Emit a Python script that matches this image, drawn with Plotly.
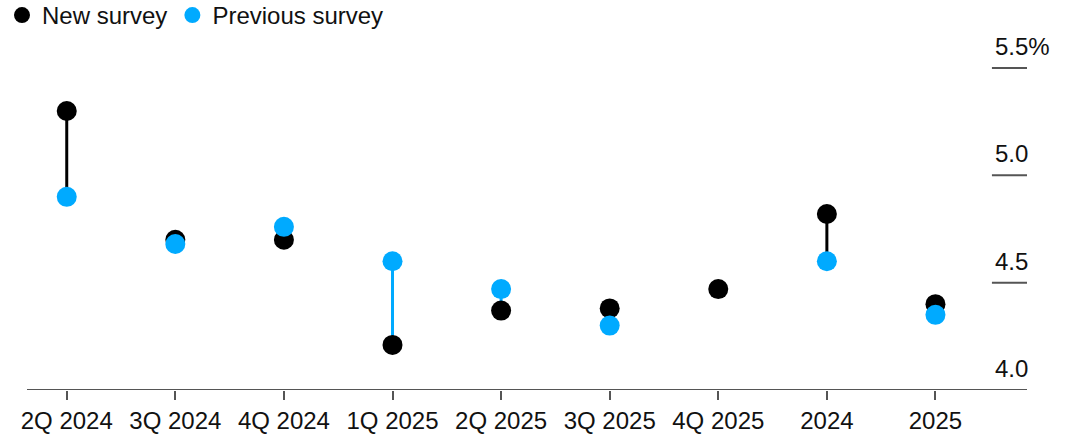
import plotly.graph_objects as go

# Survey forecasts, percent
periods = ["2Q 2024", "3Q 2024", "4Q 2024", "1Q 2025", "2Q 2025",
           "3Q 2025", "4Q 2025", "2024", "2025"]
new_survey = [5.30, 4.70, 4.70, 4.21, 4.37, 4.38, 4.47, 4.82, 4.40]
previous_survey = [4.90, 4.68, 4.76, 4.60, 4.47, 4.30, None, 4.60, 4.35]

y_ticks = [4.0, 4.5, 5.0, 5.5]
y_tick_text = ["4.0", "4.5", "5.0", "5.5%"]

BLACK = "#000000"
BLUE = "#00AAFF"
FONT = "Liberation Sans, Arial, sans-serif"
FS = 24

x_idx = list(range(len(periods)))

# Connectors: black where the new forecast rose, blue where it fell
up_x, up_y, down_x, down_y = [], [], [], []
for i, (n, p) in enumerate(zip(new_survey, previous_survey)):
    if n is None or p is None:
        continue
    if n >= p:
        up_x += [i, i, None]
        up_y += [p, n, None]
    else:
        down_x += [i, i, None]
        down_y += [p, n, None]

fig = go.Figure()
fig.add_trace(go.Scatter(x=up_x, y=up_y, mode="lines",
                         line=dict(color=BLACK, width=3),
                         showlegend=False, hoverinfo="skip"))
fig.add_trace(go.Scatter(x=down_x, y=down_y, mode="lines",
                         line=dict(color=BLUE, width=3),
                         showlegend=False, hoverinfo="skip"))
fig.add_trace(go.Scatter(x=x_idx, y=new_survey, mode="markers",
                         name="New survey",
                         marker=dict(color=BLACK, size=20)))
fig.add_trace(go.Scatter(x=x_idx, y=previous_survey, mode="markers",
                         name="Previous survey",
                         marker=dict(color=BLUE, size=20)))

x_min, x_max = -0.366, 8.843
grid_start = 8.52

# Short gridline stubs and labels on the right-hand side
for v, t in zip(y_ticks, y_tick_text):
    if v != y_ticks[0]:
        fig.add_shape(type="line", xref="x", yref="y",
                      x0=grid_start, x1=x_max, y0=v, y1=v,
                      line=dict(color="#555555", width=2))
    fig.add_annotation(x=grid_start, y=v, xref="x", yref="y",
                       text=t, showarrow=False,
                       xanchor="left", yanchor="bottom",
                       xshift=1, yshift=6,
                       font=dict(family=FONT, size=FS, color="#111111"))

fig.update_layout(
    width=1073, height=435,
    margin=dict(l=27, r=46, t=50, b=45, autoexpand=False),
    paper_bgcolor="white", plot_bgcolor="white",
    font=dict(family=FONT, size=FS, color="#111111"),
    showlegend=True,
    legend=dict(orientation="h", x=-25 / 1000, y=1 + 57 / 340,
                xref="paper", yref="paper",
                xanchor="left", yanchor="top",
                font=dict(family=FONT, size=FS, color="#111111"),
                bgcolor="rgba(0,0,0,0)", tracegroupgap=0),
    xaxis=dict(range=[x_min, x_max], tickmode="array",
               tickvals=x_idx, ticktext=periods, automargin=False,
               showgrid=False, zeroline=False,
               showline=False, ticks="outside", ticklen=9,
               tickwidth=1.5, tickcolor="#555555",
               ticklabelstandoff=0,
               tickfont=dict(family=FONT, size=FS, color="#111111")),
    yaxis=dict(range=[4.0, 5.584], showgrid=False, zeroline=False,
               showticklabels=False, showline=False, automargin=False),
)

# Baseline along 4.0
fig.add_shape(type="line", xref="x", yref="y",
              x0=x_min, x1=x_max, y0=4.0, y1=4.0,
              line=dict(color="#555555", width=2))

fig.write_html("out.html")
